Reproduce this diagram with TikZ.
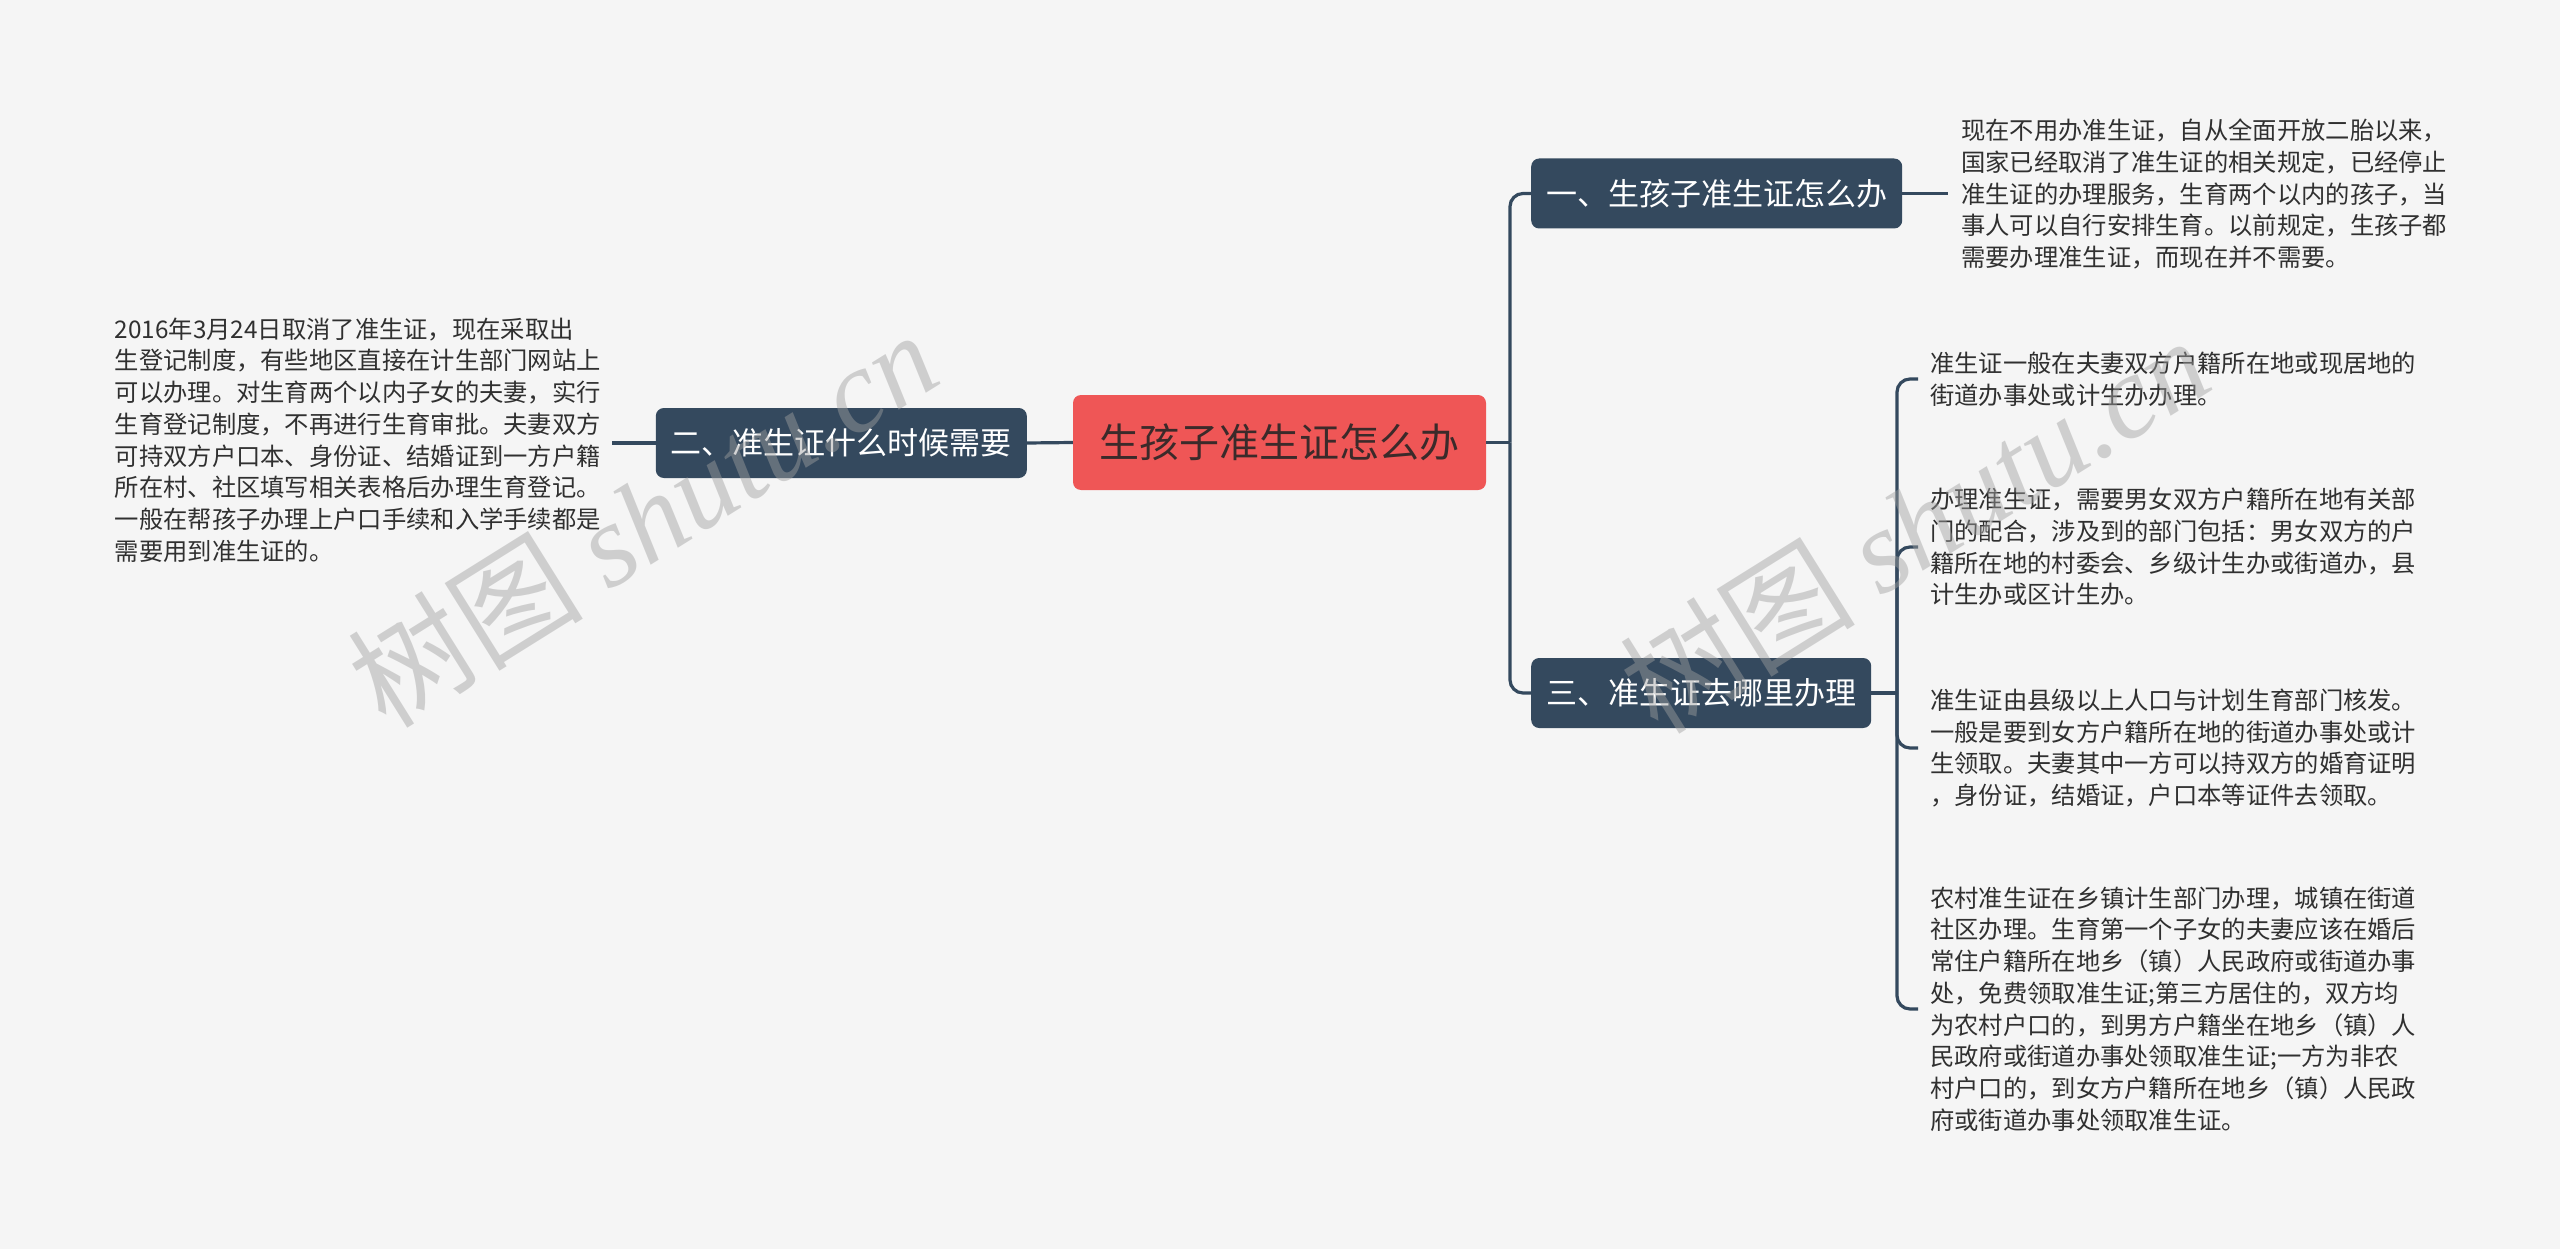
\documentclass[tikz,border=0pt]{standalone}
\usepackage{fontspec}
\newfontfamily\cjk{Noto Sans CJK SC}
\newfontfamily\wmserif{Liberation Serif}
\definecolor{bg}{HTML}{F5F5F5}
\definecolor{topic}{HTML}{34495E}
\definecolor{root}{HTML}{EF5656}
\definecolor{roottext}{HTML}{3B2A2A}
\definecolor{paratext}{HTML}{303030}
\definecolor{wmgray}{HTML}{A0A0A0}
\tikzset{
  conn/.style={draw=topic, line width=3.2pt, rounded corners=13pt},
  topicbox/.style={fill=topic, text=white, rounded corners=8pt,
    font=\cjk\fontsize{31}{36}\selectfont, inner xsep=15pt, inner ysep=0pt,
    minimum height=70pt},
  rootbox/.style={fill=root, text=roottext, rounded corners=8pt,
    font=\cjk\fontsize{40}{46}\selectfont, inner xsep=26.5pt, inner ysep=0pt,
    minimum height=95pt},
  para/.style={text=paratext, align=left, inner ysep=0pt,
    font=\cjk\fontsize{24.3}{31.7}\selectfont},
  wm/.style={text=wmgray, text opacity=0.45, rotate=32,
    font=\fontsize{118}{122}\selectfont, inner sep=0pt}
}
\begin{document}
\begin{tikzpicture}[x=1pt, y=-1pt]
\useasboundingbox[fill=bg] (0,0) rectangle (2560,1249);

% central and main topics
\node[rootbox] (c) at (1279.5,442.5) {生孩子准生证怎么办};
\node[topicbox, anchor=east] (n2) at (1027,443) {二、准生证什么时候需要};
\node[topicbox, anchor=west] (n1) at (1531,193.5) {一、生孩子准生证怎么办};
\node[topicbox, anchor=west] (n3) at (1531,693) {三、准生证去哪里办理};

% paragraphs
\node[para, anchor=east, inner xsep=11pt] (t2) at (612,440) {2016年3月24日取消了准生证，现在采取出\\生登记制度，有些地区直接在计生部门网站上\\可以办理。对生育两个以内子女的夫妻，实行\\生育登记制度，不再进行生育审批。夫妻双方\\可持双方户口本、身份证、结婚证到一方户籍\\所在村、社区填写相关表格后办理生育登记。\\一般在帮孩子办理上户口手续和入学手续都是\\需要用到准生证的。};

\node[para, anchor=west, inner xsep=13pt] (t1) at (1948,194) {现在不用办准生证，自从全面开放二胎以来，\\国家已经取消了准生证的相关规定，已经停止\\准生证的办理服务，生育两个以内的孩子，当\\事人可以自行安排生育。以前规定，生孩子都\\需要办理准生证，而现在并不需要。};

\node[para, anchor=west, inner xsep=12pt] (t3a) at (1918,379) {准生证一般在夫妻双方户籍所在地或现居地的\\街道办事处或计生办办理。};
\node[para, anchor=west, inner xsep=12pt] (t3b) at (1918,547) {办理准生证，需要男女双方户籍所在地有关部\\门的配合，涉及到的部门包括：男女双方的户\\籍所在地的村委会、乡级计生办或街道办，县\\计生办或区计生办。};
\node[para, anchor=west, inner xsep=12pt] (t3c) at (1918,748) {准生证由县级以上人口与计划生育部门核发。\\一般是要到女方户籍所在地的街道办事处或计\\生领取。夫妻其中一方可以持双方的婚育证明\\，身份证，结婚证，户口本等证件去领取。};
\node[para, anchor=west, inner xsep=12pt] (t3d) at (1918,1009) {农村准生证在乡镇计生部门办理，城镇在街道\\社区办理。生育第一个子女的夫妻应该在婚后\\常住户籍所在地乡（镇）人民政府或街道办事\\处，免费领取准生证;第三方居住的，双方均\\为农村户口的，到男方户籍坐在地乡（镇）人\\民政府或街道办事处领取准生证;一方为非农\\村户口的，到女方户籍所在地乡（镇）人民政\\府或街道办事处领取准生证。};

% connectors
\coordinate (jr) at (1510,442.5);
\coordinate (j3) at (1897,693);
\draw[conn] (c.east) -- (jr);
\draw[conn] (jr) |- (n1.west);
\draw[conn] (jr) |- (n3.west);
\draw[conn] (c.west) -- (n2.east);
\draw[conn] (n2.west) -- (t2.east |- n2.west);
\draw[conn] (n1.east) -- (t1.west |- n1.east);
\draw[conn] (n3.east) -- (j3);
\draw[conn] (j3) |- (t3a.west);
\draw[conn] (j3) |- (t3b.west);
\draw[conn] (j3) |- (t3c.west);
\draw[conn] (j3) |- (t3d.west);

% watermarks
\node[wm] (wm1) at (642,518) {\cjk 树图 \wmserif\itshape shutu.cn};
\node[wm] (wm2) at (1914,524) {\cjk 树图 \wmserif\itshape shutu.cn};
\end{tikzpicture}
\end{document}
